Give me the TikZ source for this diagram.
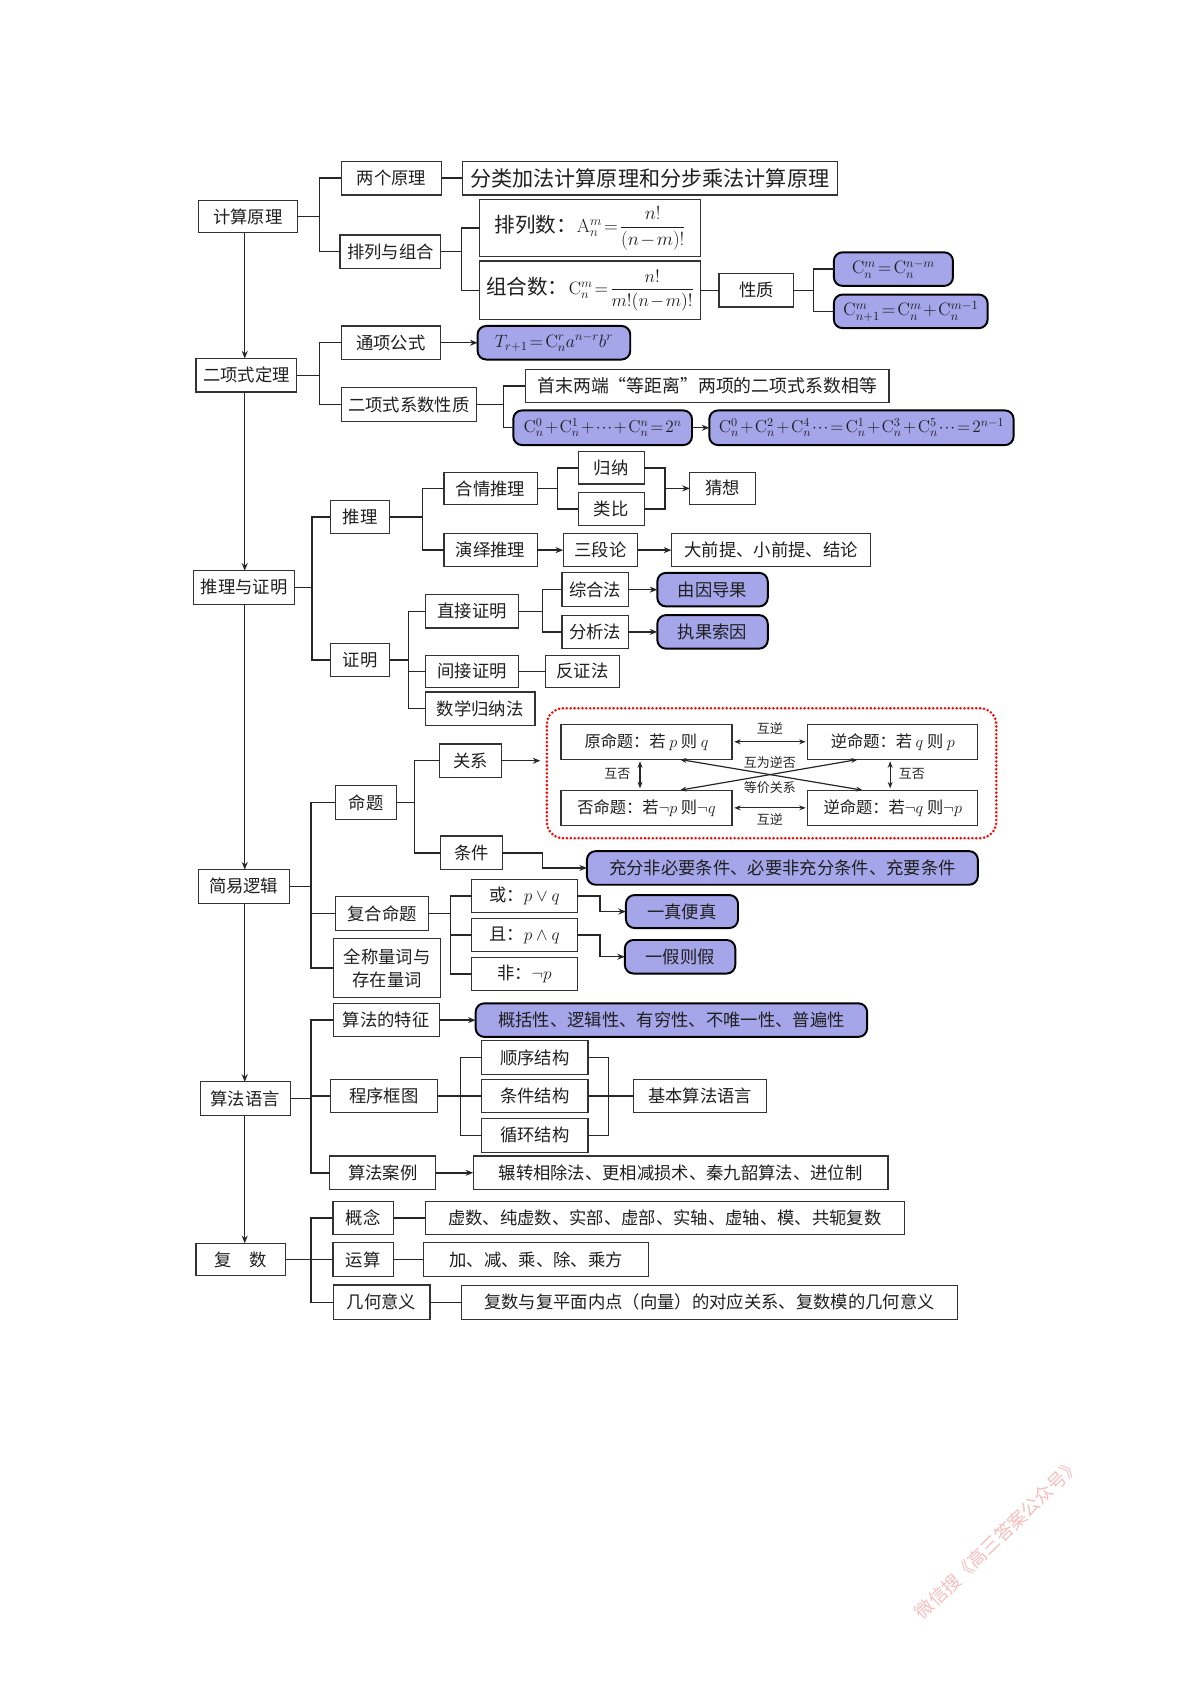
\RequirePackage{fix-cm}
\documentclass[tikz,border=0pt]{standalone}
\usepackage{amsmath}
\usepackage[no-math]{fontspec}
\setmainfont{Noto Sans CJK SC}
\usetikzlibrary{arrows.meta}
\definecolor{lav}{RGB}{165,165,234}
\definecolor{wm}{RGB}{246,190,190}
\newcommand\Cc{\mathrm{C}}
\newcommand\fsz[1]{\fontsize{#1}{#1}\selectfont}
\newcommand\tm{\thinmuskip=1mu\medmuskip=1.5mu\thickmuskip=2mu\relax}
\begin{document}
\begin{tikzpicture}[x=1pt,y=-1pt,
  bx/.style={draw=black!80, line width=1.1pt, fill=white, text=black!88, inner sep=0pt, outer sep=0pt, align=center, font=\fsz{16}},
  pb/.style={bx, draw=black, fill=lav, rounded corners=8pt, line width=1.8pt},
  sz/.style 2 args={minimum width=#1pt, minimum height=#2pt},
  ln/.style={line width=1.3pt, draw=black!85},
  arr/.style={ln, -{Stealth[length=7pt,width=5.5pt]}},
  darr/.style={line width=1.1pt, draw=black!85, {Stealth[length=6pt,width=4.5pt]}-{Stealth[length=6pt,width=4.5pt]}, shorten <=2pt, shorten >=2pt},
  lab/.style={font=\fsz{12}, inner sep=1pt, text=black!85}]
\useasboundingbox (0,0) rectangle (1108,1568);
\fill[white] (0,0) rectangle (1108,1568);

% ---------- main column ----------
\node[bx,sz={92}{30}] (jsyl) at (229,200) {计算原理};
\node[bx,sz={93}{31}] (exsdl) at (227.5,346.5) {二项式定理};
\node[bx,sz={93}{31}] (tlzm) at (225.5,542.5) {推理与证明};
\node[bx,sz={84}{31}] (jyl) at (225,818.5) {简易逻辑};
\node[bx,sz={83}{31}] (sfyy) at (226.5,1014.5) {算法语言};
\node[bx,sz={83}{30}] (fs) at (222.5,1163) {复\hspace{1em}数};
\coordinate (mainx) at (226,0);
\draw[arr] (jsyl.south -| mainx) -- (exsdl.north -| mainx);
\draw[arr] (exsdl.south -| mainx) -- (tlzm.north -| mainx);
\draw[arr] (tlzm.south -| mainx) -- (jyl.north -| mainx);
\draw[arr] (jyl.south -| mainx) -- (sfyy.north -| mainx);
\draw[arr] (sfyy.south -| mainx) -- (fs.north -| mainx);

% ---------- 计算原理 ----------
\node[bx,sz={93}{31}] (lgyl) at (361.5,164.5) {两个原理};
\node[bx,sz={346}{31},font=\fsz{19.5}] (flj) at (600,164.5) {分类加法计算原理和分步乘法计算原理};
\node[bx,sz={93}{31}] (plzh) at (360.5,232.5) {排列与组合};
\node[bx,sz={204}{53},font=\fsz{19}\tm] (pls) at (545,210.5) {排列数：{\fsz{17.5}$\mathrm{A}_n^m=\dfrac{n!}{(n-m)!}$}};
\node[bx,sz={204}{54},font=\fsz{19}\tm] (zhs) at (545,268) {组合数：{\fsz{16.5}$\Cc_n^m=\dfrac{n!}{m!(n-m)!}$}};
\node[bx,sz={69}{31}] (xz) at (698.5,268) {性质};
\node[pb,sz={110}{31},font=\fsz{16.5}\tm] (cb1) at (825,248.5) {$\Cc_n^m=\Cc_n^{n-m}$};
\node[pb,sz={142}{31},font=\fsz{16.5}\tm] (cb2) at (841,287.5) {$\Cc_{n+1}^m=\Cc_n^m+\Cc_n^{m-1}$};
\draw[ln] (jsyl.east) -- ++(20,0) |- (lgyl.west);
\draw[ln] (jsyl.east) -- ++(20,0) |- (plzh.west);
\draw[ln] (lgyl.east) -- (flj.west);
\draw[ln] (plzh.east) -- ++(19,0) |- (pls.west);
\draw[ln] (plzh.east) -- ++(19,0) |- (zhs.west);
\draw[ln] (zhs.east) -- (xz.west);
\draw[ln] (xz.east) -- ++(18,0) |- (cb1.west);
\draw[ln] (xz.east) -- ++(18,0) |- (cb2.west);

% ---------- 二项式定理 ----------
\node[bx,sz={92}{31}] (txgs) at (361,316.5) {通项公式};
\node[pb,sz={141}{31},font=\fsz{16.5}\tm] (tr) at (511.5,316.5) {$T_{r+1}=\Cc_n^r a^{n-r} b^r$};
\node[bx,sz={125}{31}] (exxs) at (377.5,373.5) {二项式系数性质};
\node[bx,sz={336}{31},font=\fsz{16.5}] (sm) at (653,356.5) {首末两端“等距离”两项的二项式系数相等};
\node[pb,sz={165}{32},font=\fsz{16}\tm] (c0) at (556.5,395) {$\Cc_n^0+\Cc_n^1+\cdots+\Cc_n^n=2^n$};
\node[pb,sz={281}{32},font=\fsz{16}\tm] (c02) at (795.5,395) {$\Cc_n^0+\Cc_n^2+\Cc_n^4\cdots=\Cc_n^1+\Cc_n^3+\Cc_n^5\cdots=2^{n-1}$};
\draw[ln] (exsdl.east) -- ++(21,0) |- (txgs.west);
\draw[ln] (exsdl.east) -- ++(21,0) |- (exxs.west);
\draw[arr] (txgs.east) -- (tr.west);
\draw[ln] (exxs.east) -- ++(25,0) |- (sm.west);
\draw[ln] (exxs.east) -- ++(25,0) |- (c0.west);
\draw[arr] (c0.east) -- (c02.west);

% ---------- 推理与证明 ----------
\node[bx,sz={55}{31}] (tl) at (332.5,477.5) {推理};
\node[bx,sz={86}{30}] (hqtl) at (453,451) {合情推理};
\node[bx,sz={61}{30}] (gn) at (564.5,432) {归纳};
\node[bx,sz={61}{30}] (lb) at (564.5,470) {类比};
\node[bx,sz={61}{30}] (cx) at (667.5,451) {猜想};
\node[bx,sz={86}{30}] (yytl) at (453,508) {演绎推理};
\node[bx,sz={69}{30}] (sdl) at (554.5,508) {三段论};
\node[bx,sz={184}{30}] (dqt) at (712,508) {大前提、小前提、结论};
\node[bx,sz={55}{31}] (zm) at (332.5,609.5) {证明};
\node[bx,sz={86}{31}] (zjzm) at (436,564.5) {直接证明};
\node[bx,sz={61}{31}] (zhf) at (549.5,544.5) {综合法};
\node[pb,sz={102}{31}] (ygdg) at (658,544.5) {由因导果};
\node[bx,sz={61}{31}] (fxf) at (549.5,583.5) {分析法};
\node[pb,sz={102}{31}] (zgsy) at (658,583.5) {执果索因};
\node[bx,sz={86}{30}] (jjzm) at (436,620) {间接证明};
\node[bx,sz={68}{30}] (fzf) at (538,620) {反证法};
\node[bx,sz={101}{31}] (sxgn) at (443.5,654.5) {数学归纳法};
\coordinate (m1) at (614,451);
\draw[ln] (tlzm.east) -- ++(16,0) |- (tl.west);
\draw[ln] (tlzm.east) -- ++(16,0) |- (zm.west);
\draw[ln] (tl.east) -- ++(30,0) |- (hqtl.west);
\draw[ln] (tl.east) -- ++(30,0) |- (yytl.west);
\draw[ln] (hqtl.east) -- ++(19,0) |- (gn.west);
\draw[ln] (hqtl.east) -- ++(19,0) |- (lb.west);
\draw[ln] (gn.east) -| (m1);
\draw[ln] (lb.east) -| (m1);
\draw[arr] (m1) -- (cx.west);
\draw[arr] (yytl.east) -- (sdl.west);
\draw[arr] (sdl.east) -- (dqt.west);
\draw[ln] (zm.east) -- ++(17,0) |- (zjzm.west);
\draw[ln] (zm.east) -- ++(17,0) |- (jjzm.west);
\draw[ln] (zm.east) -- ++(17,0) |- (sxgn.west);
\draw[ln] (zjzm.east) -- ++(22,0) |- (zhf.west);
\draw[ln] (zjzm.east) -- ++(22,0) |- (fxf.west);
\draw[arr] (zhf.east) -- (ygdg.west);
\draw[arr] (fxf.east) -- (zgsy.west);
\draw[ln] (jjzm.east) -- (fzf.west);

% ---------- 简易逻辑 ----------
\node[draw=red, dash pattern=on 0pt off 3.6pt, line cap=round, line width=2.6pt, rounded corners=15pt, inner sep=0pt, outer sep=0pt, sz={415}{120}] (rbox) at (712.5,714) {};
\node[bx,sz={158}{32},font=\fsz{15}] (ymt) at (597,685) {原命题：若 $p$ 则 $q$};
\node[bx,sz={157}{32},font=\fsz{15}] (nmt) at (824.5,685) {逆命题：若 $q$ 则 $p$};
\node[bx,sz={158}{32},font=\fsz{15}] (fmt) at (597,746) {否命题：若$\neg p$ 则$\neg q$};
\node[bx,sz={157}{32},font=\fsz{15}] (nfmt) at (824.5,746) {逆命题：若$\neg q$ 则$\neg p$};
\draw[darr] (ymt.east) -- (nmt.west);
\draw[darr] (fmt.east) -- (nfmt.west);
\draw[darr] ([xshift=-6pt]ymt.south) -- ([xshift=-6pt]fmt.north);
\draw[darr] ([xshift=-2.5pt]nmt.south) -- ([xshift=-2.5pt]nfmt.north);
\draw[darr] ([xshift=29pt]ymt.south) -- ([xshift=-26pt]nfmt.north);
\draw[darr] ([xshift=-30.5pt]nmt.south) -- ([xshift=29pt]fmt.north);
\node[lab] (l1) at (711,673) {互逆};
\node[lab] (l2) at (711,757) {互逆};
\node[lab] (l3) at (570,715) {互否};
\node[lab] (l4) at (842,715) {互否};
\node[lab] (l5) at (711,704) {互为逆否};
\node[lab] (l6) at (711,727) {等价关系};

\node[bx,sz={56}{31}] (mt) at (338,741) {命题};
\node[bx,sz={57}{31}] (gx) at (434.5,702.5) {关系};
\node[bx,sz={57}{31}] (tj) at (435.5,787.5) {条件};
\node[pb,sz={361}{31}] (cf) at (722.5,801.5) {充分非必要条件、必要非充分条件、充要条件};
\node[bx,sz={86}{31}] (fhmt) at (353,843.5) {复合命题};
\node[bx,sz={97.5}{31}] (huo) at (484.25,827.5) {或：$p\vee q$};
\node[bx,sz={97.5}{31}] (qie) at (484.25,863.5) {且：$p\wedge q$};
\node[bx,sz={97.5}{31}] (fei) at (484.25,899.5) {非：$\neg p$};
\node[pb,sz={103.5}{30.5}] (yzbz) at (629.75,841.75) {一真便真};
\node[pb,sz={102}{31}] (yjzj) at (628,883.5) {一假则假};
\node[bx,sz={99}{54},font=\fontsize{16}{21}\selectfont] (qc) at (357.5,894) {全称量词与\\存在量词};
\draw[ln] (jyl.east) -- ++(20,0) |- (mt.west);
\draw[ln] (jyl.east) -- ++(20,0) |- (fhmt.west);
\draw[ln] (jyl.east) -- ++(20,0) |- (qc.west);
\draw[ln] (mt.east) -- ++(17,0) |- (gx.west);
\draw[ln] (mt.east) -- ++(17,0) |- (tj.west);
\draw[arr, shorten >=6pt] (gx.east) -- (gx.east -| rbox.west);
\draw[arr] (tj.east) -- ++(37,0) |- (cf.west);
\draw[ln] (fhmt.east) -- ++(20,0) |- (huo.west);
\draw[ln] (fhmt.east) -- ++(20,0) |- (qie.west);
\draw[ln] (fhmt.east) -- ++(20,0) |- (fei.west);
\draw[arr] (huo.east) -- ++(21,0) |- (yzbz.west);
\draw[arr] (qie.east) -- ++(21,0) |- (yjzj.west);

% ---------- 算法语言 ----------
\node[bx,sz={98}{31}] (sftz) at (356.7,942) {算法的特征};
\node[pb,sz={361.5}{31}] (gkx) at (620,942) {概括性、逻辑性、有穷性、不唯一性、普遍性};
\node[bx,sz={99}{31}] (cxkt) at (354.5,1012) {程序框图};
\node[bx,sz={98}{31}] (sxjg) at (494,976.5) {顺序结构};
\node[bx,sz={98}{31}] (tjjg) at (494,1012) {条件结构};
\node[bx,sz={98}{31}] (xhjg) at (494,1048.5) {循环结构};
\node[bx,sz={123}{31}] (jbsf) at (646.5,1012) {基本算法语言};
\node[bx,sz={98}{31}] (sfal) at (353.4,1083) {算法案例};
\node[bx,sz={383}{31}] (zzxc) at (628.5,1083) {辗转相除法、更相减损术、秦九韶算法、进位制};
\coordinate (m2) at (562,1012);
\draw[ln] (sfyy.east) -- ++(19,0) |- (sftz.west);
\draw[ln] (sfyy.east) -- ++(19,0) |- (cxkt.west);
\draw[ln] (sfyy.east) -- ++(19,0) |- (sfal.west);
\draw[arr] (sftz.east) -- (gkx.west);
\draw[ln] (cxkt.east) -- ++(21.5,0) |- (sxjg.west);
\draw[ln] (cxkt.east) -- ++(21.5,0) |- (tjjg.west);
\draw[ln] (cxkt.east) -- ++(21.5,0) |- (xhjg.west);
\draw[ln] (sxjg.east) -| (m2);
\draw[ln] (xhjg.east) -| (m2);
\draw[ln] (tjjg.east) -- (jbsf.west);
\draw[arr] (sfal.east) -- (zzxc.west);

% ---------- 复数 ----------
\node[bx,sz={56}{31}] (gn2) at (335.5,1124.7) {概念};
\node[bx,sz={442.3}{31}] (xs) at (613.85,1124.7) {虚数、纯虚数、实部、虚部、实轴、虚轴、模、共轭复数};
\node[bx,sz={56}{31}] (ys) at (335.5,1163.2) {运算};
\node[bx,sz={207.4}{31}] (jj) at (495.1,1163.2) {加、减、乘、除、乘方};
\node[bx,sz={89.4}{32}] (jhyy) at (352.3,1202.6) {几何意义};
\node[bx,sz={457.6}{31}] (fsyf) at (655.2,1202.6) {复数与复平面内点（向量）的对应关系、复数模的几何意义};
\draw[ln] (fs.east) -- ++(23,0) |- (gn2.west);
\draw[ln] (fs.east) -- ++(23,0) |- (ys.west);
\draw[ln] (fs.east) -- ++(23,0) |- (jhyy.west);
\draw[ln] (gn2.east) -- (xs.west);
\draw[ln] (ys.east) -- (jj.west);
\draw[ln] (jhyy.east) -- (fsyf.west);

% ---------- watermark ----------
\node[rotate=44, text=wm, font=\fsz{17}] (wmk) at (921,1421) {微信搜《高三答案公众号》};
\end{tikzpicture}
\end{document}
